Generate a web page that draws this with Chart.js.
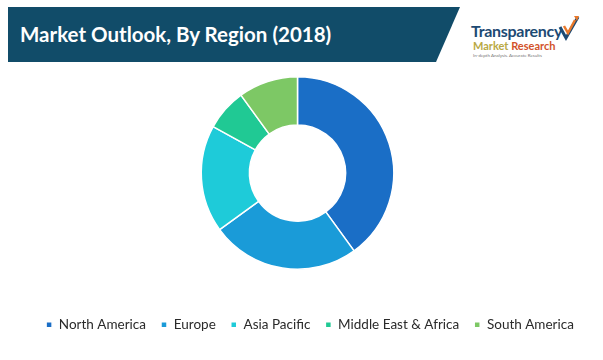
<!DOCTYPE html>
<html>
<head>
<meta charset="utf-8">
<script src="https://cdn.jsdelivr.net/npm/chart.js@4/dist/chart.umd.min.js"></script>
<style>
  html, body { margin:0; padding:0; background:#fff; }
  body { width:603px; height:360px; position:relative; overflow:hidden; font-family: Lato, "Open Sans", sans-serif; }
  #banner { position:absolute; left:8px; top:7px; width:452px; height:55px; background:#114c69;
    clip-path: polygon(0 0, 100% 0, 94.7% 100%, 0 100%); }
  #title { position:absolute; left:20px; top:7px; height:55px; line-height:55px; color:#fff; font-weight:700; font-size:20.5px; white-space:nowrap; }
  #logo { position:absolute; left:471px; top:22px; }
  #logo .t1 { font-family: Lato, sans-serif; font-weight:700; font-size:16px; color:#1d4a73; letter-spacing:-0.3px; line-height:18px; }
  #logo .t2 { font-family: Lato, sans-serif; font-weight:700; font-size:11px; line-height:12px; padding-left:2px; }
  #logo .t2 .m { color:#b9a944; }
  #logo .t2 .r { color:#d2522a; }
  #logo .t3 { font-size:4.5px; color:#777; padding-left:2px; line-height:7px; }
  #chk { position:absolute; left:557px; top:14px; }
  #wrap { position:absolute; left:0; top:0; width:603px; height:360px; }
</style>
</head>
<body>
<div id="banner"></div>
<div id="title">Market Outlook, By Region (2018)</div>
<div id="logo">
  <div class="t1">Transparency</div>
  <div class="t2"><span class="m">Market </span><span class="r">Research</span></div>
  <div class="t3">In-depth Analysis. Accurate Results</div>
</div>
<svg id="chk" width="24" height="28" viewBox="0 0 24 28">
  <path d="M3 13 L9 24 L21 3" fill="none" stroke="#1d4a73" stroke-width="3"/>
  <path d="M7 12 L11 19 L18 6" fill="none" stroke="#e8782a" stroke-width="2.5"/>
  <path d="M17 2 L22 2 L20 7" fill="#e8782a"/>
</svg>
<div id="wrap"><canvas id="c" width="603" height="360"></canvas></div>
<script>
const categories = ["North America", "Europe", "Asia Pacific", "Middle East & Africa", "South America"];
const shares = [40, 25, 18, 7, 10];
const colors = ["#1a6ec6", "#1a9bd8", "#1ecbd9", "#20c994", "#7dc865"];

// shift the legend row a little to the right, as in the reference
const legendShift = {
  id: 'legendShift',
  afterLayout(chart) {
    const lg = chart.legend;
    if (lg) { lg.left += 12.5; lg.right += 12.5; }
  }
};

new Chart(document.getElementById('c'), {
  type: 'doughnut',
  data: {
    labels: categories,
    datasets: [{
      data: shares,
      backgroundColor: colors,
      borderColor: '#ffffff',
      borderWidth: 1.5
    }]
  },
  options: {
    responsive: false,
    animation: false,
    cutout: '50%',
    layout: { padding: { top: 76, left: 0, right: 8, bottom: 18.5 } },
    plugins: {
      tooltip: { enabled: false },
      legend: {
        position: 'bottom',
        title: { display: true, text: ' ', font: { size: 12 }, padding: { top: 18.6, bottom: 0 } },
        labels: {
          boxWidth: 6, boxHeight: 6, padding: 15,
          color: '#2a2a2a',
          font: { family: 'Lato', size: 13.5 }
        }
      }
    }
  },
  plugins: [legendShift]
});
</script>
</body>
</html>
